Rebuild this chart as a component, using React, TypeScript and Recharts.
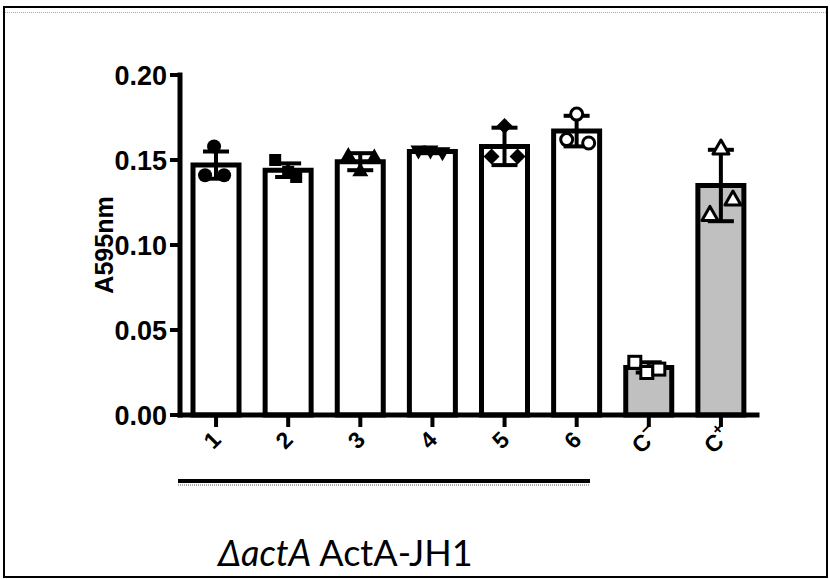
import React from "react";
import { Bar, Cell, ComposedChart, ErrorBar, Scatter, XAxis, YAxis } from "recharts";

// A595nm per strain, three replicates each
const categories = ["1", "2", "3", "4", "5", "6", "C-", "C+"];
const means = [0.147, 0.144, 0.149, 0.155, 0.158, 0.167, 0.028, 0.135];
const sds = [0.008, 0.004, 0.005, 0.001, 0.011, 0.009, 0.003, 0.021];
const rep1 = [0.158, 0.15, 0.153, 0.155, 0.17, 0.177, 0.031, 0.157];
const rep2 = [0.141, 0.143, 0.152, 0.155, 0.152, 0.162, 0.025, 0.127];
const rep3 = [0.141, 0.14, 0.144, 0.154, 0.152, 0.16, 0.027, 0.118];
const yTicks = [0, 0.05, 0.1, 0.15, 0.2];

const markers = ["dot", "square", "triUp", "triDown", "diamond", "ring", "openSquare", "openTri"];
// horizontal scatter of the replicate symbols, px
const jitter = [
    [-2, -11, 8],
    [-13, 0, 8],
    [-12, 14, 0],
    [-14, -2, 10],
    [0, -13, 13],
    [0, -10, 12],
    [-14, -2, 10],
    [0, 12, -11],
];

const data = categories.map((cat, i) => ({
    cat,
    mean: means[i],
    sd: sds[i],
    r1: rep1[i],
    r2: rep2[i],
    r3: rep3[i],
}));

const FONT = "'Liberation Sans', Arial, sans-serif";

function renderMarker(rep: number) {
    return (props: any) => {
        const { cx, cy, payload } = props;
        const i = categories.indexOf(payload.cat);
        const x = cx + jitter[i][rep];
        const y = cy;
        const kind = markers[i];
        const open = kind.startsWith("open") || kind === "ring";
        const fill = open ? "#fff" : "#000";
        const sw = open ? 3 : 0;
        switch (kind) {
            case "dot":
            case "ring":
                return <circle cx={x} cy={y} r={open ? 6 : 7} fill={fill} stroke="#000" strokeWidth={sw} />;
            case "square":
            case "openSquare":
                return <rect x={x - 6} y={y - 6} width={12} height={12} fill={fill} stroke="#000" strokeWidth={sw} />;
            case "triUp":
            case "openTri":
                return (
                    <polygon
                        points={`${x},${y - 8} ${x + 8},${y + 6} ${x - 8},${y + 6}`}
                        fill={fill}
                        stroke="#000"
                        strokeWidth={sw}
                        strokeLinejoin="round"
                    />
                );
            case "triDown":
                return <polygon points={`${x},${y + 8} ${x + 8},${y - 6} ${x - 8},${y - 6}`} fill={fill} />;
            case "diamond":
                return <polygon points={`${x},${y - 8} ${x + 8},${y} ${x},${y + 8} ${x - 8},${y}`} fill={fill} />;
            default:
                return <g />;
        }
    };
}

function XTick(props: any) {
    const { x, y, payload } = props;
    const label: string = payload.value;
    const isCtrl = label.startsWith("C");
    return (
        <g transform={`translate(${x - 4},${y + 11}) rotate(-45)`}>
            <text
                x={0}
                y={0}
                textAnchor="middle"
                dominantBaseline="central"
                fontFamily={FONT}
                fontWeight={700}
                fontSize={23}
                fill="#000"
            >
                {isCtrl ? (
                    <>
                        C
                        <tspan fontSize={16} dy={-8}>
                            {label.endsWith("+") ? "+" : "−"}
                        </tspan>
                    </>
                ) : (
                    label
                )}
            </text>
        </g>
    );
}

export default function App() {
    return (
        <div style={{ position: "absolute", left: 0, top: 0, width: 830, height: 579, background: "#fff" }}>
            <div
                style={{
                    position: "absolute",
                    left: 3,
                    top: 6,
                    width: 825,
                    height: 572,
                    boxSizing: "border-box",
                    border: "2px solid #000",
                }}
            />
            <div
                style={{
                    position: "absolute",
                    left: 5,
                    top: 12,
                    width: 821,
                    height: 0,
                    borderTop: "1px dotted #aaa",
                }}
            />
            <div style={{ position: "absolute", left: 0, top: 0 }}>
                <ComposedChart width={830} height={579} data={data} margin={{ top: 75, right: 73, bottom: 104, left: 100 }}>
                    <XAxis
                        dataKey="cat"
                        height={60}
                        interval={0}
                        tickSize={12}
                        tickMargin={2}
                        tick={<XTick />}
                        axisLine={{ stroke: "#000", strokeWidth: 5, strokeLinecap: "square" }}
                        tickLine={{ stroke: "#000", strokeWidth: 4 }}
                    />
                    <YAxis
                        domain={[0, 0.2]}
                        ticks={yTicks}
                        width={80}
                        tickSize={10}
                        tickMargin={3}
                        tickFormatter={(v: number) => v.toFixed(2)}
                        axisLine={{ stroke: "#000", strokeWidth: 5, strokeLinecap: "square" }}
                        tickLine={{ stroke: "#000", strokeWidth: 4 }}
                        tick={{ fill: "#000", fontSize: 27, fontWeight: 700, fontFamily: FONT }}
                    />
                    <Bar dataKey="mean" barSize={46} stroke="#000" strokeWidth={5} isAnimationActive={false}>
                        {data.map((d) => (
                            <Cell key={d.cat} fill={d.cat.startsWith("C") ? "#c0c0c0" : "#fff"} />
                        ))}
                        <ErrorBar dataKey="sd" width={13} strokeWidth={4} stroke="#000" direction="y" />
                    </Bar>
                    <Scatter dataKey="r1" shape={renderMarker(0)} isAnimationActive={false} />
                    <Scatter dataKey="r2" shape={renderMarker(1)} isAnimationActive={false} />
                    <Scatter dataKey="r3" shape={renderMarker(2)} isAnimationActive={false} />
                </ComposedChart>
            </div>
            <svg width={830} height={579} style={{ position: "absolute", left: 0, top: 0, pointerEvents: "none" }}>
                <text
                    transform="translate(104,245) rotate(-90)"
                    textAnchor="middle"
                    dominantBaseline="central"
                    fontFamily={FONT}
                    fontWeight={700}
                    fontSize={25}
                    fill="#000"
                >
                    A595nm
                </text>
                <line x1={178} y1={481} x2={590} y2={481} stroke="#000" strokeWidth={4} />
                <line x1={178} y1={485} x2={590} y2={485} stroke="#b0b0b0" strokeWidth={2} strokeDasharray="1 1" />
                <text x={218} y={566} fontFamily="Lato, 'Open Sans', sans-serif" fontSize={36} fill="#000">
                    <tspan fontStyle="italic">ΔactA</tspan> ActA-JH1
                </text>
            </svg>
        </div>
    );
}
